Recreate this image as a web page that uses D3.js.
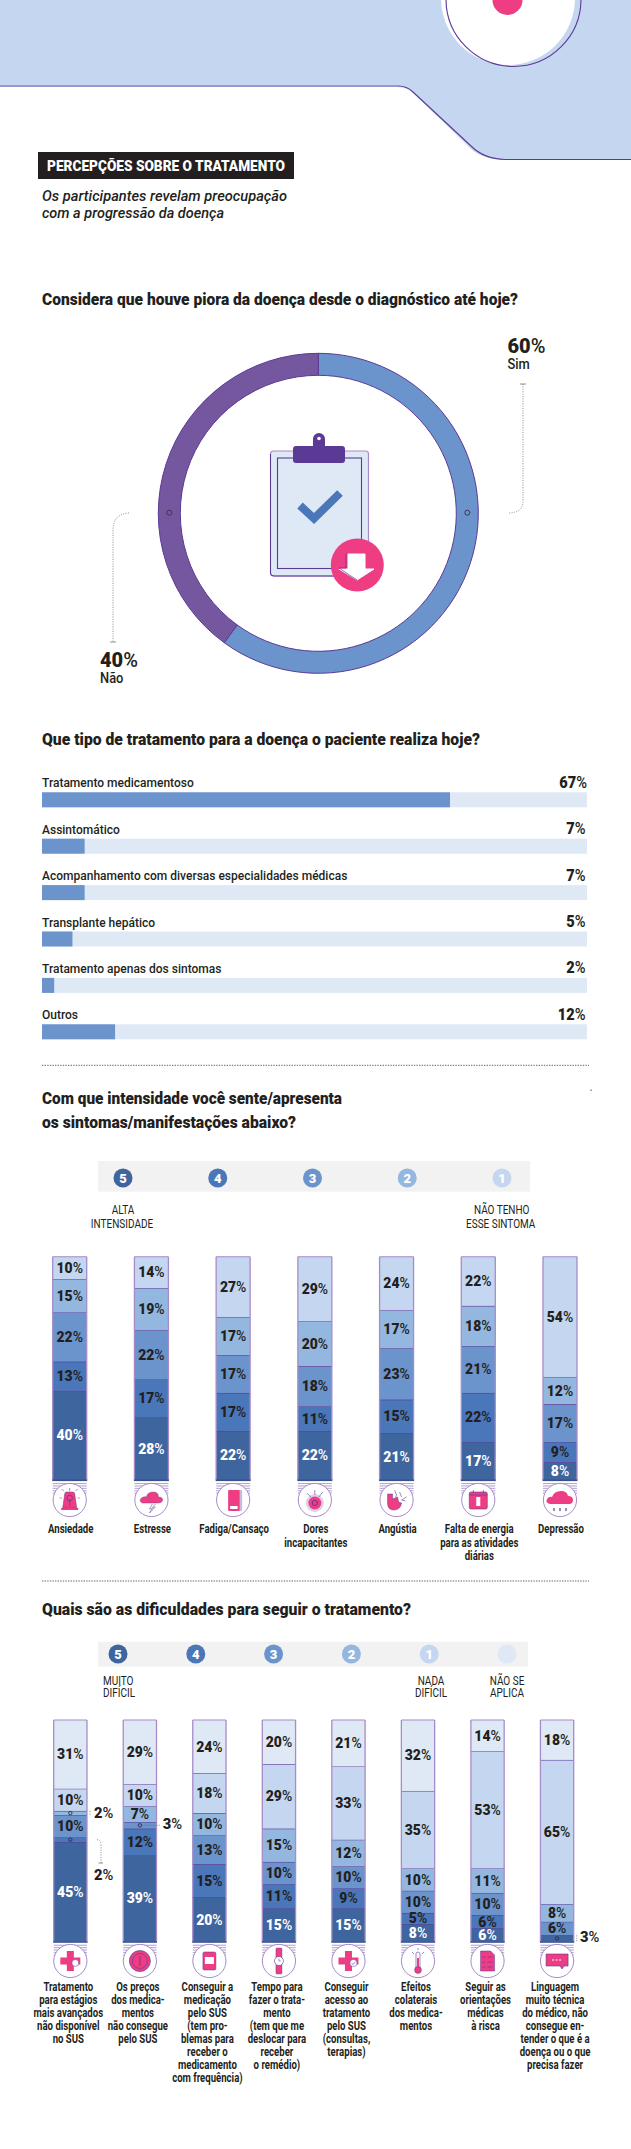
<!DOCTYPE html>
<html lang="pt-BR"><head><meta charset="utf-8">
<style>html,body{margin:0;padding:0;background:#fff}svg{display:block}text{font-family:Roboto,"Liberation Sans",sans-serif;fill:#231f20}</style>
<script src="https://cdn.jsdelivr.net/npm/d3@7/dist/d3.min.js"></script>
</head><body><svg id="c" width="631" height="2149"></svg>
<script>
// ---------- DATA ----------
const sectionTag = "PERCEPÇÕES SOBRE O TRATAMENTO";
const intro = ["Os participantes revelam preocupação","com a progressão da doença"];
const q1 = "Considera que houve piora da doença desde o diagnóstico até hoje?";
const q2 = "Que tipo de tratamento para a doença o paciente realiza hoje?";
const q3 = ["Com que intensidade você sente/apresenta","os sintomas/manifestações abaixo?"];
const q4 = "Quais são as dificuldades para seguir o tratamento?";

const donutNames = ["Sim","Não"];
const donutValues = [60,40];

const treatmentNames = ["Tratamento medicamentoso","Assintomático","Acompanhamento com diversas especialidades médicas","Transplante hepático","Tratamento apenas dos sintomas","Outros"];
const treatmentValues = [67,7,7,5,2,12];

const symptomNames = [["Ansiedade"],["Estresse"],["Fadiga/Cansaço"],["Dores","incapacitantes"],["Angústia"],["Falta de energia","para as atividades","diárias"],["Depressão"]];
const symptomLevel5 = [40,28,22,22,21,17,8];
const symptomLevel4 = [13,17,17,11,15,22,9];
const symptomLevel3 = [22,22,17,18,23,21,17];
const symptomLevel2 = [15,19,17,20,17,18,12];
const symptomLevel1 = [10,14,27,29,24,22,54];

const difficultyNames = [
 ["Tratamento","para estágios","mais avançados","não disponível","no SUS"],
 ["Os preços","dos medica-","mentos","não consegue","pelo SUS"],
 ["Conseguir a","medicação","pelo SUS","(tem pro-","blemas para","receber o","medicamento","com frequência)"],
 ["Tempo para","fazer o trata-","mento","(tem que me","deslocar para","receber","o remédio)"],
 ["Conseguir","acesso ao","tratamento","pelo SUS","(consultas,","terapias)"],
 ["Efeitos","colaterais","dos medica-","mentos"],
 ["Seguir as","orientações","médicas","à risca"],
 ["Linguagem","muito técnica","do médico, não","consegue en-","tender o que é a","doença ou o que","precisa fazer"]];
const difficultyLevel5 = [45,39,20,15,15,8,6,3];
const difficultyLevel4 = [2,12,15,11,9,5,6,0];
const difficultyLevel3 = [10,3,13,10,10,10,10,6];
const difficultyLevel2 = [2,7,10,15,12,10,11,8];
const difficultyLevel1 = [10,10,18,29,33,35,53,65];
const difficultyNA     = [31,29,24,20,21,32,14,18];

const symptomIcons = ["alarm","storm","battery","pain","heart","calendar","rain"];
const difficultyIcons = ["cross","coin","box","watch","crossCheck","thermo","doc","chat"];
const legendSymptoms = ["5","4","3","2","1"];
const legendDifficulty = ["5","4","3","2","1",""];

// ---------- STYLE ----------
const C = {d5:"#3f659e",d4:"#4a76ba",d3:"#6b93cc",d2:"#94b7e0",d1:"#c5d7f0",na:"#dfe9f6",pur:"#5b3a96",lil:"#a58cc8",pink:"#ee3d83",ink:"#231f20",donutA:"#6b93cc",donutB:"#7557a0"};
const levelColours=[C.d5,C.d4,C.d3,C.d2,C.d1,C.na];
const svg=d3.select("#c");

function txt(g,x,y,s,o={}){
  const t=g.append("text").attr("font-size",o.size||14).attr("font-weight",o.weight||400)
    .attr("text-anchor",o.anchor||"start").style("fill",o.fill||C.ink);
  if(o.italic)t.attr("font-style","italic");
  if(o.sx)t.attr("transform",`translate(${x},${y}) scale(${o.sx},1)`);else t.attr("x",x).attr("y",y);
  if(o.w)t.attr("textLength",o.w).attr("lengthAdjust","spacingAndGlyphs");
  t.text(s);return t;
}
function pct(g,x,y,v,o={}){
  const t=g.append("text").attr("font-size",o.size||15).attr("text-anchor",o.anchor||"middle")
    .attr("transform",`translate(${x},${y}) scale(${o.sx||1},1)`).style("fill",o.fill||C.ink);
  t.append("tspan").attr("font-weight",900).style("fill",o.fill||C.ink).text(v);
  t.append("tspan").attr("font-weight",500).style("fill",o.fill||C.ink).text("%");
  return t;
}
const leader=(g,d)=>g.append("path").attr("d",d).attr("fill","none").attr("stroke","#6d6d6d").attr("stroke-width",.8).attr("stroke-dasharray","1 1.4");

// ---------- HEADER ----------
svg.append("path").attr("d","M0,0 H631 V159 H503 Q480,160 467,145 L412,92 Q406,87 396,87 H0 Z").attr("fill",C.d1);
svg.append("path").attr("d","M0,86 H398").attr("stroke","#8f7cc4").attr("stroke-width",1.4);
svg.append("path").attr("d","M398,86 Q407,86 413,92 L471,146 Q484,159 505,159.5 H631").attr("fill","none").attr("stroke",C.pur).attr("stroke-width",1.1);
svg.append("circle").attr("cx",508).attr("cy",-2).attr("r",67).attr("fill","#fff");
svg.append("circle").attr("cx",513.5).attr("cy",-1).attr("r",67.5).attr("fill","none").attr("stroke",C.pur).attr("stroke-width",1.1);
svg.append("circle").attr("cx",507.5).attr("cy",0).attr("r",15).attr("fill",C.pink);

svg.append("rect").attr("x",38).attr("y",152).attr("width",256).attr("height",27).attr("fill",C.ink);
txt(svg,47,171.3,sectionTag,{size:15,weight:900,fill:"#fff",w:238});
txt(svg,42,200.7,intro[0],{size:15.5,weight:500,italic:true,w:245});
txt(svg,42,217.7,intro[1],{size:15.5,weight:500,italic:true,w:182});
txt(svg,42,305,q1,{size:16.5,weight:900,w:476});

// ---------- DONUT ----------
const cx=318.3,cy=513.3;
const donut=svg.append("g").attr("transform",`translate(${cx},${cy})`);
const pie=d3.pie().sort(null)(donutValues);
const arc=d3.arc().innerRadius(138).outerRadius(160);
donut.selectAll("path.s").data(pie).join("path").attr("class","s").attr("d",arc)
  .attr("fill",(d,i)=>i?C.donutB:C.donutA).attr("stroke",C.pur).attr("stroke-width",1);
[-149,149].forEach(x=>donut.append("circle").attr("cx",x).attr("cy",-.6).attr("r",2.5).attr("fill","none").attr("stroke","#33304f").attr("stroke-width",.9));
pct(svg,507.5,353,donutValues[0],{size:20,anchor:"start"});
txt(svg,507.5,369,donutNames[0],{size:14,weight:500,sx:.92});
pct(svg,100,667,donutValues[1],{size:20,anchor:"start"});
txt(svg,100,683,donutNames[1],{size:14,weight:500,sx:.92});
leader(svg,"M523,384 V501 Q523,513 508,513");
leader(svg,"M129,513 Q113,514 113,530 V642");
svg.append("path").attr("d","M520,384 H526 M110,642 H116").attr("stroke","#777").attr("stroke-width",.8);

// clipboard
const clip=svg.append("g");
clip.append("rect").attr("x",270.5).attr("y",451).attr("width",98).attr("height",125).attr("rx",3).attr("fill",C.na).attr("stroke",C.lil).attr("stroke-width",1.2);
clip.append("path").attr("d","M270.5,454 V573 Q270.5,576 274,576 H340").attr("fill","none").attr("stroke",C.pur);
clip.append("rect").attr("x",277.5).attr("y",458).attr("width",84).attr("height",110.5).attr("fill",C.na).attr("stroke",C.pur).attr("stroke-width",1.1);
clip.append("circle").attr("cx",319).attr("cy",439).attr("r",6).attr("fill",C.pur);
clip.append("rect").attr("x",313).attr("y",439).attr("width",12).attr("height",10).attr("fill",C.pur);
clip.append("circle").attr("cx",319).attr("cy",438.5).attr("r",1.8).attr("fill","#fff");
clip.append("rect").attr("x",293).attr("y",446).attr("width",52).attr("height",17).attr("rx",3).attr("fill",C.pur);
clip.append("path").attr("d","M300,505.5 L314,518.5 L340,493").attr("fill","none").attr("stroke",C.d4).attr("stroke-width",8);
clip.append("circle").attr("cx",357.3).attr("cy",565).attr("r",26.5).attr("fill",C.pink);
clip.append("path").attr("d","M348,554 H365 V569 H374 L357,580 L339,569 H348 Z").attr("fill","#fff").attr("stroke","#fff");
clip.append("path").attr("d","M346,554 V568 H339 L357,580").attr("fill","none").attr("stroke",C.pur).attr("stroke-width",.7);

// ---------- TREATMENT BARS ----------
txt(svg,42,745,q2,{size:16.5,weight:900,w:438});
const xT=d3.scaleLinear().domain([0,89.5]).range([42,587]);
const yT=d3.scaleBand().domain(treatmentNames).range([792.3,1039.3]).paddingInner(1-15/46.4);
const barsG=svg.append("g");
treatmentNames.forEach((n,i)=>{
  const y=yT(n),h=yT.bandwidth();
  barsG.append("rect").attr("x",xT(0)).attr("y",y).attr("width",xT.range()[1]-xT(0)).attr("height",h).attr("fill",C.na);
  barsG.append("rect").attr("x",xT(0)).attr("y",y).attr("width",xT(treatmentValues[i])-xT(0)).attr("height",h).attr("fill",C.d3);
  txt(barsG,42,y-5,n,{size:13.5,weight:500,sx:.89});
  pct(barsG,i?585.5:587,y-4.5,treatmentValues[i],{size:17,anchor:"end",sx:.86});
});
const divider=y=>svg.append("path").attr("d",`M42,${y} H589`).attr("stroke","#555").attr("stroke-width",.9).attr("stroke-dasharray","1.4 1.2");
divider(1065.3);
svg.append("rect").attr("x",590.5).attr("y",1089.5).attr("width",1).attr("height",1.5).attr("fill","#555");

// ---------- STACK HELPER ----------
const icons={
 alarm:g=>{g.append("path").attr("d","M-7,8 L-5,-6 Q-5,-8 -3,-8 H3 Q5,-8 5,-6 L7,8 Z").attr("fill",C.pink).attr("stroke",C.pur).attr("stroke-width",.5);
   g.append("rect").attr("x",-8.5).attr("y",8).attr("width",17).attr("height",2).attr("fill",C.pink);
   g.append("circle").attr("cy",-2).attr("r",2.8).attr("fill","none").attr("stroke",C.pur).attr("stroke-width",.7);
   g.append("path").attr("d","M0,-1 V6 M-8,-2 H-10 M8,-2 H10 M-6,-9 L-8,-11 M6,-9 L8,-11 M0,-9 V-12").attr("stroke",C.pur).attr("stroke-width",.6);},
 storm:g=>{g.append("path").attr("d","M-9,3 Q-13,1 -10,-2 Q-7,-4 -5,-3 Q-4,-8 2,-8 Q7,-8 7,-3 Q12,-3 11,1 Q10,3 7,3 Z").attr("fill",C.pink).attr("stroke",C.pur).attr("stroke-width",.4);
   g.append("path").attr("d","M1,4 L-2,9 L1,8.5 L-2,13 L4,7 L1,7.5 L4,4").attr("fill","#fff").attr("stroke",C.pur).attr("stroke-width",.5);},
 battery:g=>{g.append("rect").attr("x",-3).attr("y",-10).attr("width",12).attr("height",21).attr("rx",1).attr("fill","#c9b8e0");
   g.append("rect").attr("x",-5).attr("y",-10).attr("width",11.5).attr("height",21).attr("rx",1).attr("fill",C.pink);
   g.append("rect").attr("x",-3).attr("y",6).attr("width",7.5).attr("height",3).attr("fill","#fff");},
 pain:g=>{g.append("circle").attr("cy",3).attr("r",9).attr("fill","#ddd0ea");g.append("circle").attr("cy",3).attr("r",6.5).attr("fill",C.pink);
   g.append("circle").attr("cy",3).attr("r",2.6).attr("fill","none").attr("stroke",C.pur);
   g.append("path").attr("d","M-8,-7 L-4,-3 M0,-10 V-5 M8,-8 L4,-3").attr("stroke",C.pur).attr("stroke-width",.6);},
 heart:g=>{g.append("path").attr("d","M-9,-6 H-4 L-4,-1 L1,-3 L2,2 L5,3 Q4,10 -3,10 Q-9,10 -9,3 Z").attr("fill",C.pink).attr("stroke",C.pur).attr("stroke-width",.5);
   g.append("path").attr("d","M-2,-10 L0,-5 L-1,-3 M3,-8 L5,-3 M10,-3 L5,0 L9,1").attr("fill","none").attr("stroke",C.pur).attr("stroke-width",.6);},
 calendar:g=>{g.append("rect").attr("x",-9).attr("y",-8).attr("width",18).attr("height",17).attr("rx",1.5).attr("fill",C.pink).attr("stroke",C.pur).attr("stroke-width",.6);
   g.append("path").attr("d","M-9,-5 H9 M-5,-10 V-7 M5,-10 V-7").attr("stroke",C.pur).attr("stroke-width",.7);
   g.append("rect").attr("x",-2).attr("y",-3).attr("width",4).attr("height",9).attr("fill","#fff");},
 rain:g=>{g.append("path").attr("d","M-10,4 Q-15,3 -13,-1 Q-11,-4 -8,-3 Q-6,-9 1,-9 Q7,-9 8,-4 Q13,-4 13,0 Q13,4 9,4 Z").attr("fill",C.pink);
   g.append("path").attr("d","M-6,8 V11 M0,8 V11 M6,8 V11").attr("stroke",C.pur).attr("stroke-width",1.2);},
 cross:g=>{g.append("path").attr("d","M-3.5,-10 H3.5 V-3.5 H10 V3.5 H3.5 V10 H-3.5 V3.5 H-10 V-3.5 H-3.5 Z").attr("fill",C.pink);
   g.append("circle").attr("cx",5).attr("cy",2).attr("r",3.4).attr("fill","#fff").attr("stroke",C.pur).attr("stroke-width",.5);},
 coin:g=>{g.append("circle").attr("r",10.5).attr("fill",C.pink).attr("stroke",C.pur).attr("stroke-width",.7);
   g.append("circle").attr("r",7.5).attr("fill","none").attr("stroke",C.pur).attr("stroke-width",.6);
   g.append("path").attr("d","M0,-5 V5").attr("stroke",C.pur).attr("stroke-width",.8);},
 box:g=>{g.append("rect").attr("x",-6.5).attr("y",-9).attr("width",13).attr("height",18).attr("rx",1.5).attr("fill",C.pink).attr("stroke",C.pur).attr("stroke-width",.5);
   g.append("rect").attr("x",-4.5).attr("y",-4).attr("width",9).attr("height",7).attr("fill","#fff");},
 watch:g=>{g.append("rect").attr("x",-3).attr("y",-13).attr("width",6).attr("height",26).attr("rx",1).attr("fill",C.pink).attr("stroke",C.pur).attr("stroke-width",.4);
   g.append("circle").attr("r",4.5).attr("fill","#fff").attr("stroke",C.pur).attr("stroke-width",.6);
   g.append("path").attr("d","M0,-2.5 V0 H2").attr("fill","none").attr("stroke",C.pur).attr("stroke-width",.5);},
 crossCheck:g=>{g.append("path").attr("d","M-3.5,-10 H3.5 V-3.5 H10 V3.5 H3.5 V10 H-3.5 V3.5 H-10 V-3.5 H-3.5 Z").attr("fill",C.pink);
   g.append("circle").attr("cx",5).attr("cy",2).attr("r",3.6).attr("fill","#fff").attr("stroke",C.pur).attr("stroke-width",.5);
   g.append("path").attr("d","M3,2 L4.6,3.6 L7,.6").attr("fill","none").attr("stroke",C.pur).attr("stroke-width",.6);},
 thermo:g=>{g.append("rect").attr("x",-2).attr("y",-9).attr("width",4).attr("height",17).attr("rx",2).attr("fill","#fff").attr("stroke",C.pur).attr("stroke-width",.6);
   g.append("rect").attr("x",-1).attr("y",-3).attr("width",2).attr("height",10).attr("fill",C.pink);
   g.append("circle").attr("cy",9).attr("r",3.4).attr("fill",C.pink).attr("stroke",C.pur).attr("stroke-width",.5);
   g.append("path").attr("d","M-6,-9 L-4,-7 M6,-9 L4,-7 M0,-13 V-11").attr("stroke",C.pur).attr("stroke-width",.6);},
 doc:g=>{g.append("path").attr("d","M-7,-10 H3 L7,-6 V10 H-7 Z").attr("fill",C.pink).attr("stroke",C.pur).attr("stroke-width",.5);
   g.append("path").attr("d","M-5,-4 L-4,-3 L-2.5,-5 M0,-4 H5 M-5,1 L-4,2 L-2.5,0 M0,1 H5 M-5,6 L-4,7 L-2.5,5 M0,6 H5").attr("fill","none").attr("stroke",C.pur).attr("stroke-width",.6);},
 chat:g=>{g.append("path").attr("d","M-11,-7 H11 V5 H7 L5,8 L3,5 H-11 Z").attr("fill",C.pink).attr("stroke",C.pur).attr("stroke-width",.6);
   g.append("path").attr("d","M-5,-1 H5").attr("stroke","#d9c9ee").attr("stroke-width",1.6).attr("stroke-dasharray","2 1.5");}
};

function stacks(names,levels,iconKeys,geo){
  const rows=names.map((n,i)=>{const r={name:n,i};levels.forEach((l,k)=>r["L"+k]=l[i]);return r;});
  const keys=levels.map((_,k)=>"L"+k);
  const series=d3.stack().keys(keys)(rows);
  const x=d3.scaleBand().domain(names.map((_,i)=>i)).range(geo.xr).paddingInner(1-geo.bw/geo.step);
  const y=d3.scaleLinear().domain([0,100]).range([geo.bottom,geo.top]);
  const g=svg.append("g");
  series.forEach((s,k)=>{
    g.selectAll(null).data(s).join("rect").attr("x",(d,i)=>x(i)).attr("width",x.bandwidth())
      .attr("y",d=>y(d[1])).attr("height",d=>y(d[0])-y(d[1])).attr("fill",levelColours[k]);
    g.selectAll(null).data(s.filter(d=>d[1]>d[0])).join("line").attr("x1",d=>x(d.data.i)).attr("x2",d=>x(d.data.i)+x.bandwidth())
      .attr("y1",d=>y(d[1])).attr("y2",d=>y(d[1])).attr("stroke",d=>d[1]>=100?C.lil:C.pur).attr("stroke-width",1.1);
  });
  rows.forEach((r,i)=>{
    const X=x(i),W=x.bandwidth(),c=X+W/2;
    g.append("path").attr("d",`M${X},${geo.top} V${geo.bottom} M${X+W},${geo.top} V${geo.bottom}`).attr("stroke",C.lil).attr("stroke-width",1.3).attr("fill","none");
    g.append("rect").attr("x",X-.5).attr("y",geo.bottom-.5).attr("width",W+1).attr("height",1.6).attr("fill","#3c4f8e");
    d3.range(5).forEach(j=>g.append("rect").attr("x",X).attr("y",geo.bottom+3+j*2.4).attr("width",W).attr("height",1.1).attr("fill","#b7a6d6"));
    g.append("circle").attr("cx",c).attr("cy",geo.icon).attr("r",16.6).attr("fill","#fff").attr("stroke",C.lil).attr("stroke-width",1);
    const ic=g.append("g").attr("transform",`translate(${c},${geo.icon})`);icons[iconKeys[i]](ic);
    r.name.forEach((ln,j)=>txt(g,c+geo.labelDx,geo.labelY+j*geo.labelStep,ln,{size:12,weight:700,anchor:"middle",sx:.8}));
  });
  series.forEach((s,k)=>s.forEach(d=>{
    const v=d[1]-d[0],i=d.data.i;
    if(v>=5)pct(g,x(i)+x.bandwidth()/2,(y(d[0])+y(d[1]))/2+5,v,{size:15,fill:k===0?"#fff":C.ink,sx:.93});
  }));
  return {x,y,g,series};
}
function legend(keys,xs,y,strip,colours){
  svg.append("rect").attr("x",strip[0]).attr("y",strip[1]).attr("width",strip[2]-strip[0]).attr("height",strip[3]-strip[1]).attr("fill","#f2f2f2");
  keys.forEach((k,i)=>{
    svg.append("circle").attr("cx",xs(i)).attr("cy",y).attr("r",9.5).attr("fill",colours[i]);
    if(k)txt(svg,xs(i),y+4.6,k,{size:13,weight:900,fill:"#fff",anchor:"middle"});
  });
}

// ---------- SYMPTOMS ----------
txt(svg,42,1104,q3[0],{size:16.5,weight:900,w:300});
txt(svg,42,1127.7,q3[1],{size:16.5,weight:900,w:254});
legend(legendSymptoms,d3.scaleLinear().domain([0,4]).range([123,502]),1178,[98,1161,530,1191.7],levelColours);
txt(svg,123,1214,"ALTA",{size:12.5,anchor:"middle",sx:.8});
txt(svg,122,1228,"INTENSIDADE",{size:12.5,anchor:"middle",sx:.8});
txt(svg,501.7,1214,"NÃO TENHO",{size:12.5,anchor:"middle",sx:.8});
txt(svg,500.7,1228,"ESSE SINTOMA",{size:12.5,anchor:"middle",sx:.8});
stacks(symptomNames,[symptomLevel5,symptomLevel4,symptomLevel3,symptomLevel2,symptomLevel1],symptomIcons,
  {xr:[52.7,577],bw:34,step:81.7,top:1256.7,bottom:1480,icon:1500,labelY:1533,labelStep:13.6,labelDx:1});
divider(1581);

// ---------- DIFFICULTIES ----------
txt(svg,42,1615,q4,{size:16.5,weight:900,w:369});
legend(legendDifficulty,d3.scaleLinear().domain([0,5]).range([118,507]),1654,[98,1641.7,528,1666.7],levelColours);
txt(svg,103,1685,"MUITO",{size:12.5,sx:.8});
txt(svg,103,1697,"DIFÍCIL",{size:12.5,sx:.8});
txt(svg,431,1685,"NADA",{size:12.5,anchor:"middle",sx:.8});
txt(svg,431,1697,"DIFÍCIL",{size:12.5,anchor:"middle",sx:.8});
txt(svg,507,1685,"NÃO SE",{size:12.5,anchor:"middle",sx:.8});
txt(svg,507,1697,"APLICA",{size:12.5,anchor:"middle",sx:.8});
const dif=stacks(difficultyNames,[difficultyLevel5,difficultyLevel4,difficultyLevel3,difficultyLevel2,difficultyLevel1,difficultyNA],difficultyIcons,
  {xr:[53.7,573.7],bw:33.3,step:69.6,top:1720,bottom:1941.7,icon:1961,labelY:1990.7,labelStep:13,labelDx:-2});

// small segments are labelled outside the stack
const outDots=[];
dif.series.forEach((s,k)=>s.forEach(d=>{const v=d[1]-d[0];if(v>0&&v<5)outDots.push({i:d.data.i,k,v,y:dif.y((d[0]+d[1])/2)});}));
outDots.forEach(o=>{
  const c=dif.x(o.i)+dif.x.bandwidth()/2;
  dif.g.append("circle").attr("cx",c).attr("cy",o.y).attr("r",1.7).attr("fill","none").attr("stroke","#2c2a45").attr("stroke-width",.9);
  if(o.i===0&&o.k===3){leader(dif.g,`M90,${o.y-2} V${o.y+3}`);pct(dif.g,94,o.y+5,o.v,{size:15.5,anchor:"start",sx:.95});}
  if(o.i===0&&o.k===1){leader(dif.g,`M97,${o.y} Q101,${o.y} 101,${o.y+6} V1863`);
    dif.g.append("path").attr("d","M98.5,1863 H103").attr("stroke","#777").attr("stroke-width",.8);
    pct(dif.g,94,1880,o.v,{size:15.5,anchor:"start",sx:.95});}
  if(o.i===1){leader(dif.g,`M${c+2},${o.y} H160.5`);pct(dif.g,162.7,o.y+4,o.v,{size:15.5,anchor:"start",sx:.95});}
  if(o.i===7){leader(dif.g,`M576.7,${o.y-3} V${o.y+3}`);pct(dif.g,580,o.y+4,o.v,{size:15.5,anchor:"start",sx:.95});}
});
</script></body></html>
